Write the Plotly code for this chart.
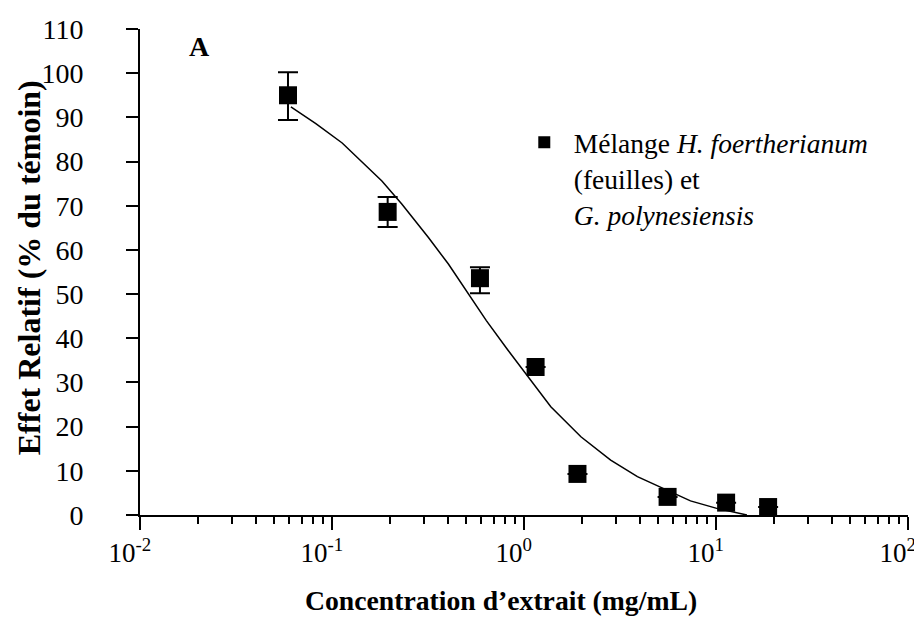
import plotly.graph_objects as go

conc = [0.059, 0.195, 0.59, 1.15, 1.9, 5.6, 11.3, 18.7]
effect = [95.0, 68.6, 53.6, 33.5, 9.3, 4.1, 2.8, 1.8]
err_plus = [5.2, 3.4, 2.5, None, None, None, None, None]
err_minus = [5.6, 3.4, 3.4, None, None, None, None, None]

# Fitted curve
curve_x = [0.0611, 0.0824, 0.113, 0.138, 0.182, 0.231, 0.318, 0.404, 0.513, 0.578,
           0.637, 0.826, 1.05, 1.38, 1.98, 2.83, 3.90, 5.36, 7.37, 10.1, 14.5]
curve_y = [92.4, 88.6, 84.2, 80.6, 75.6, 70.4, 62.8, 56.8, 50.2, 46.8,
           44.0, 37.3, 31.3, 24.5, 17.7, 12.4, 8.7, 6.0, 3.2, 1.5, 0]

x_tickvals = [0.01, 0.1, 1, 10, 100]
x_ticktext = ["10<sup>-2</sup>", "10<sup>-1</sup>", "10<sup>0</sup>", "10<sup>1</sup>", "10<sup>2</sup>"]
y_tickvals = list(range(0, 111, 10))

minor_vals = [m * d for d in [0.01, 0.1, 1, 10] for m in range(2, 10)]

FONT = "'Liberation Serif', 'Times New Roman', Times, serif"
PAD = "\u00a0\u00a0\u00a0"  # labels sit slightly left of their ticks in the original

fig = go.Figure()

fig.add_trace(go.Scatter(
    x=curve_x, y=curve_y, mode="lines",
    line=dict(color="black", width=1.5),
    showlegend=False, hoverinfo="skip", cliponaxis=False,
))

fig.add_trace(go.Scatter(
    x=conc, y=effect, mode="markers",
    marker=dict(symbol="square", size=18, color="black"),
    error_y=dict(type="data", symmetric=False, array=err_plus, arrayminus=err_minus,
                 color="black", thickness=2, width=10),
    name="Mélange <i>H. foertherianum</i><br>(feuilles) et<br><i>G. polynesiensis</i>",
    cliponaxis=False,
))

# page body has an 8px margin: figure is drawn at (8, 8)
fig.update_layout(
    width=914, height=625,
    margin=dict(l=132, r=14, t=21, b=118),
    paper_bgcolor="white", plot_bgcolor="white",
    font=dict(family=FONT, size=26, color="black"),
    legend=dict(
        x=0.488, y=0.817, xanchor="left", yanchor="top",
        bgcolor="rgba(0,0,0,0)", font=dict(family=FONT, size=27.5),
        itemsizing="constant", itemwidth=49, valign="top", tracegroupgap=0,
    ),
    annotations=[
        dict(text="<b>A</b>", x=0.078, y=0.965, xref="paper", yref="paper",
             xanchor="center", yanchor="middle",
             showarrow=False, font=dict(family=FONT, size=28)),
        dict(text="<b>Concentration d\u2019extrait (mg/mL)</b>", x=0.470, y=-0.175,
             xref="paper", yref="paper", xanchor="center", yanchor="middle",
             showarrow=False, font=dict(family=FONT, size=27.7)),
        dict(text="<b>Effet Relatif (% du témoin)</b>", x=-0.145, y=0.509,
             xref="paper", yref="paper", xanchor="center", yanchor="middle",
             textangle=-90, showarrow=False, font=dict(family=FONT, size=32)),
    ],
)

fig.update_xaxes(
    type="log", range=[-2, 2.0005], automargin=False,
    tickmode="array", tickvals=x_tickvals, ticktext=[t + PAD for t in x_ticktext],
    ticklabeloverflow="allow",
    ticks="outside", ticklen=13, tickwidth=1.5, tickcolor="black",
    showline=True, linecolor="black", linewidth=2,
    showgrid=False, zeroline=False,
    tickfont=dict(family=FONT, size=27),
    minor=dict(tickmode="array", tickvals=minor_vals, ticks="outside", ticklen=7,
               tickwidth=1.5, tickcolor="black", showgrid=False),
)

fig.update_yaxes(
    range=[0, 110], automargin=False,
    tickmode="array", tickvals=y_tickvals,
    ticks="outside", ticklen=12, tickwidth=1.5, tickcolor="black",
    showline=True, linecolor="black", linewidth=2,
    showgrid=False, zeroline=False,
    ticklabelstandoff=37,
    tickfont=dict(family=FONT, size=28),
)

fig.write_html("out.html")
